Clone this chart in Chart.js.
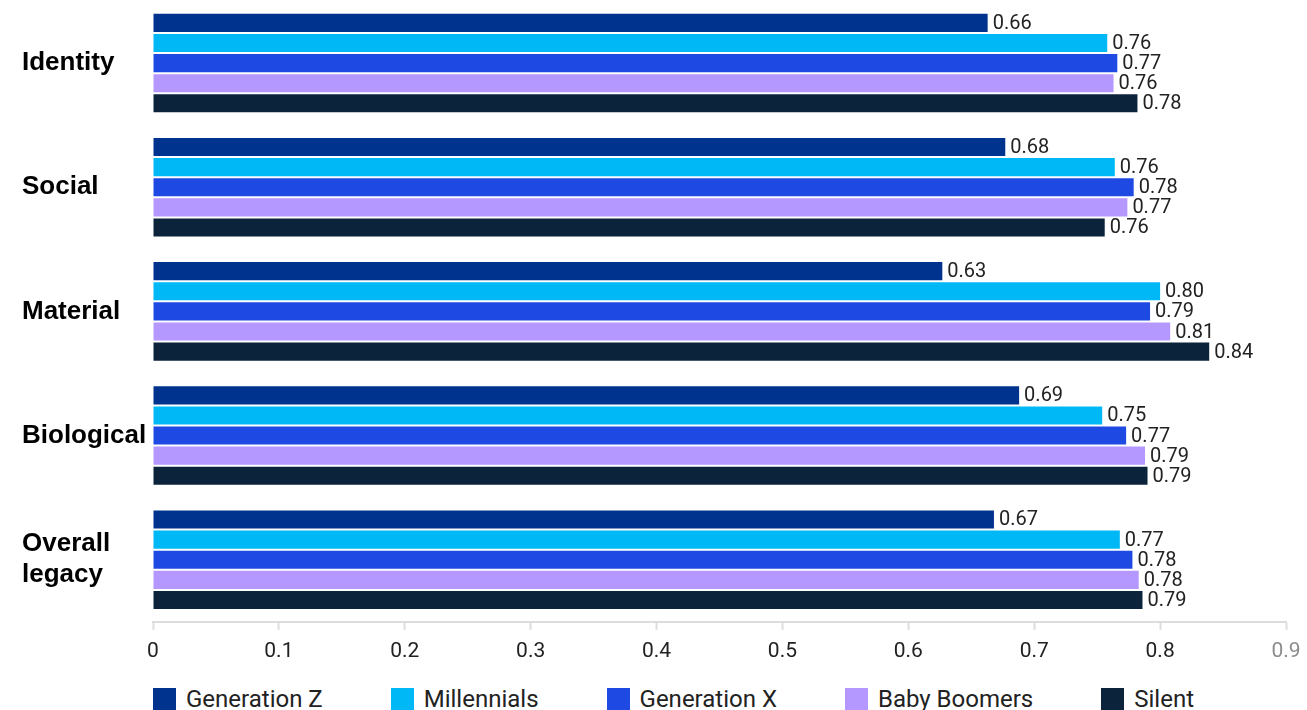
<!DOCTYPE html>
<html>
<head>
<meta charset="utf-8">
<script src="https://cdn.jsdelivr.net/npm/chart.js@4.4.1/dist/chart.umd.min.js"></script>
<style>
  body { margin: 0; background: #fff; }
  #wrap { position: relative; width: 1307px; height: 710px; overflow: hidden; }
  #box { position: absolute; left: 0; top: 0; width: 1307px; height: 673px; }
  #legend { position: absolute; left: 153px; top: 688px; display: flex; font: 24px Roboto, sans-serif; color: #222; }
  #legend .item { display: flex; align-items: center; margin-right: 68px; white-space: nowrap; }
  #legend .swatch { width: 23px; height: 23px; margin-right: 10px; }
  #legend .label { line-height: 23px; }
</style>
</head>
<body>
<div id="wrap">
  <div id="box"><canvas id="legacy-chart"></canvas></div>
  <div id="legend"></div>
</div>
<script>
const categories = ['Identity', 'Social', 'Material', 'Biological', ['Overall', 'legacy']];
const seriesNames = ['Generation Z', 'Millennials', 'Generation X', 'Baby Boomers', 'Silent'];
const seriesColors = ['#00338D', '#00B8F5', '#1E49E2', '#B497FF', '#0C233C'];

const genZ = [0.663, 0.677, 0.627, 0.688, 0.668];
const millennials = [0.758, 0.764, 0.800, 0.754, 0.768];
const genX = [0.766, 0.779, 0.792, 0.773, 0.778];
const boomers = [0.763, 0.774, 0.808, 0.788, 0.783];
const silent = [0.782, 0.756, 0.839, 0.790, 0.786];

const xTicks = [0, 0.1, 0.2, 0.3, 0.4, 0.5, 0.6, 0.7, 0.8, 0.9];

const values = [genZ, millennials, genX, boomers, silent];

const valueLabels = {
  id: 'valueLabels',
  afterDatasetsDraw(chart) {
    const { ctx } = chart;
    ctx.save();
    ctx.font = '20px Roboto';
    ctx.fillStyle = '#222';
    ctx.textAlign = 'left';
    ctx.textBaseline = 'middle';
    chart.data.datasets.forEach((ds, i) => {
      chart.getDatasetMeta(i).data.forEach((bar, j) => {
        ctx.fillText(ds.data[j].toFixed(2), bar.x + 5, bar.y + 1);
      });
    });
    ctx.restore();
  },
};

const ctx = document.getElementById('legacy-chart').getContext('2d');

const chart = new Chart(ctx, {
  type: 'bar',
  data: {
    labels: categories,
    datasets: seriesNames.map((name, i) => ({
      label: name,
      data: values[i],
      backgroundColor: seriesColors[i],
      borderWidth: 0,
      barPercentage: 0.9,
      categoryPercentage: 0.81,
    })),
  },
  options: {
    indexAxis: 'y',
    responsive: true,
    maintainAspectRatio: false,
    animation: false,
    layout: {
      padding: { left: 22, right: 21, top: 1, bottom: 0 },
    },
    scales: {
      x: {
        min: 0,
        max: 0.9,
        afterBuildTicks(scale) {
          scale.ticks = xTicks.map((v) => ({ value: v }));
        },
        afterFit(scale) {
          scale.paddingLeft = 0;
          scale.paddingRight = 0;
        },
        grid: {
          drawOnChartArea: false,
          drawTicks: true,
          tickLength: 8,
          tickWidth: 2,
          color: '#dcdcdc',
        },
        border: { color: '#dcdcdc', width: 2 },
        ticks: {
          padding: 9,
          maxRotation: 0,
          font: { family: 'Roboto', size: 21 },
          color: (c) => (c.tick && c.tick.value === 0.9 ? '#8c8c8c' : '#222'),
          callback: (v) => String(v),
        },
      },
      y: {
        afterFit(scale) {
          scale.width = 131;
          scale.paddingTop = 0;
          scale.paddingBottom = 0;
        },
        grid: { display: false },
        border: { display: false },
        ticks: {
          crossAlign: 'far',
          padding: 0,
          color: '#000',
          font: { family: 'Liberation Sans', size: 26, weight: 'bold', lineHeight: 1.2 },
        },
      },
    },
    plugins: {
      legend: { display: false },
      tooltip: { enabled: false },
    },
  },
  plugins: [valueLabels],
});

const legendEl = document.getElementById('legend');
chart.data.datasets.forEach((ds) => {
  const item = document.createElement('div');
  item.className = 'item';
  const sw = document.createElement('span');
  sw.className = 'swatch';
  sw.style.background = ds.backgroundColor;
  const lb = document.createElement('span');
  lb.className = 'label';
  lb.textContent = ds.label;
  item.appendChild(sw);
  item.appendChild(lb);
  legendEl.appendChild(item);
});
</script>
</body>
</html>
